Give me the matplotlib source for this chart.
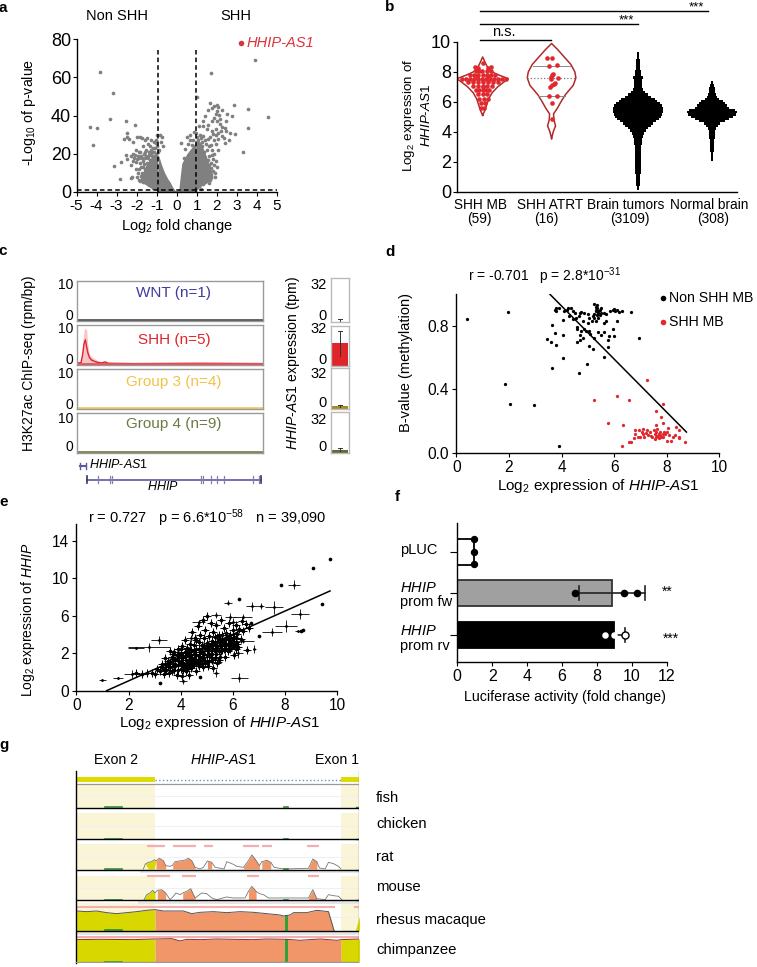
import numpy as np
import matplotlib
matplotlib.use('Agg')
import matplotlib.pyplot as plt

plt.rcParams['font.family'] = ['Liberation Sans', 'DejaVu Sans']
plt.rcParams['mathtext.fontset'] = 'custom'
plt.rcParams['mathtext.rm'] = 'Liberation Sans'
plt.rcParams['mathtext.it'] = 'Liberation Sans:italic'
plt.rcParams['mathtext.default'] = 'regular'
plt.rcParams['axes.linewidth'] = 1.0
plt.rcParams['axes.unicode_minus'] = False

W, H = 757, 967
AS1 = r'$\mathit{HHIP}$-$\mathit{AS1}$'

# --- a: volcano
vol_left = [(-3.85,62.9),(-3.19,52),(-3.35,38.3),(-4.35,34),(-4,33.3),(-4.2,24.4),(-2.55,37),(-2.1,35),(-2.5,30.8),(-2.5,29),
    (-2.65,27.5),(-2.4,27.7),(-2.85,7),(-3.15,13.4),(-2.8,15.5),(-2.55,19.3),(-2.5,17),(-2.3,19),(-2.2,20),(-2.15,18),
    (-2.3,14),(-2.05,12),(-2.25,8),(-2.3,7.5),(-1.95,10),(-2.05,15.5),(-1.9,18),(-1.85,21),(-1.85,29),(-1.75,28),
    (-1.6,27),(-1.7,24),(-1.55,22),(-1.45,25),(-1.35,24),(-1.3,20),(-1.15,26),(-1.05,27),(-1,30),(-0.85,30),
    (-0.75,29),(-1,24),(-0.9,22),(-1.6,18),(-1.7,16),(-1.8,13),(-1.75,10),(-1.65,8),(-1.9,6.5),(-1.55,19),
    (-1.45,18),(-1.35,16.5),(-1.25,19),(-1.15,21),(-1.05,20),(-0.98,18.5),(-1.5,15),(-1.6,12),(-1.75,7),(-1.7,5),
    (-1.5,5),(-1.4,3.5),(-1.3,3),(-1.2,2),(-2.0,17),(-1.95,19),(-2.1,19.5),(-1.65,20),(-1.4,21),(-1.2,23),
    (-1.1,17.5),(-1.8,19),(-1.3,27),(-1.5,28),(-2.0,28.5),(-2.2,26),(-1.85,15),(-1.9,12),(-1.8,8.5),(-1.85,5.5),
    (-1.7,13),(-1.75,18),(-1.65,14.5),(-1.6,6),(-1.55,9),(-1.5,18.5),(-1.6,21),(-1.4,19.5),(-1.3,22),(-1.1,19),
    (-1.25,21),(-1.1,23),(-0.95,21),(-1.05,25.5),(-0.8,26),(-0.7,24),(-1.9,21),(-2.05,22),(-2.2,16),(-2.0,8)]
vol_right = [(3.88,69),(1.7,62.4),(1.02,49.8),(4.55,39.2),(3.55,43.4),(3.55,33.3),(3.29,20.9),(2.92,30.5),(2.85,45.6),(2.5,41),
    (2.25,43),(1.67,46.5),(1.85,45),(2,45.5),(2.08,44.5),(2,42.5),(1.95,41),(1.78,44),(2.1,40.5),(1.85,38.5),
    (1.55,43),(1.4,40),(1.3,37),(1.55,35),(1.75,37),(2,37),(2.15,35.5),(2.25,34),(2.4,33.5),(2.45,32),
    (2.65,31),(2.2,32),(1.95,33),(1.1,34.5),(1.3,34.5),(1.5,33),(1.75,32),(1.95,30),(2.25,29.5),(2.35,28),
    (2.4,25.5),(2.05,27.5),(1.85,27),(1.65,29),(1.3,29.5),(1.15,30),(0.85,31.5),(0.95,31),(0.65,30),(0.5,29),
    (0.2,25.5),(0.4,22.5),(0.65,27),(1.05,27),(1.25,26),(1.45,25),(1.7,24.5),(1.95,25),(2.05,22),(1.85,20),
    (1.5,22),(1.25,24),(1.05,24),(1.35,21),(1.6,19),(1.8,17),(2.0,13),(1.9,10),(1.95,16),(1.6,14),
    (1.35,8),(1.4,5),(1.3,4),(1.45,6),(1.5,9),(1.7,12.5),(1.55,16.5),(1.15,19),(1.1,3),(1.2,1.8),
    (1.6,4.5),(1.3,11),(1.2,13),(1.55,27.5),(2.15,38),(2.05,31),(1.8,30.5),(2.45,37),(2.6,27),(2.75,40),
    (1.75,22),(1.6,24),(1.4,27),(1.2,28),(1.75,19.5),(1.7,15),(1.85,14),(1.8,11),(1.65,10),(1.55,7),
    (1.65,6.5),(1.45,12),(1.4,16),(1.35,19),(0.8,27),(0.75,24.5),(0.55,25),(0.35,18),(1.0,29),(1.9,8)]
vol_core_x = [-1.0,-0.9,-0.75,-0.6,-0.45,-0.32,-0.2,-0.1,0.0,0.1,0.15,0.25,0.5,0.95,1.0]
vol_core_top = [0.5,19,14,10,7,5,2.5,1,0.7,1,6,15,20,26,0.5]
vol_lwing_x = [-1.75,-1.5,-1.2,-0.95]
vol_lwing_top = [9,15,19,20]
vol_lwing_bot = [5,3.5,2,0.5]
vol_rwing_x = [0.95,1.2,1.5,1.8]
vol_rwing_top = [27,26,18,9]
vol_rwing_bot = [0.5,3,5,7]
vol_cutoff_fc = [-0.94, 0.96]
vol_cutoff_p = 1.3
vol_hhip = (3.2, 78)

# --- b: violins and swarms
b_ticks = [0, 2, 4, 6, 8, 10]
mb_y = [5.1,5.5,5.8,6.2,6.6,7.0,7.3,7.55,7.8,8.0,8.3,8.6,9.0]
mb_hw = [0,8,12,18,28,45,62,77,48,28,15,8,0]
mb_pts_x = [78,54,63,102,93,58,66,76,90,104,16,28,40,52,64,76,88,100,112,124,136,148,33,48,63,78,93,108,123,
    40,52,64,78,92,104,116,50,64,78,92,106,58,68,78,88,98,64,78,92,68,83,93,73,86,73,83,61,95,78]
mb_pts_y = [8.6,8.3,8.25,8.3,8.25,8.05,8.05,8.05,8.05,8.05,7.55,7.55,7.55,7.55,7.55,7.55,7.55,7.55,7.55,7.55,7.55,7.55,7.3,7.3,7.3,7.3,7.3,7.3,7.3,
    7.8,7.8,7.8,7.8,7.8,7.8,7.8,7.05,7.05,7.05,7.05,7.05,6.8,6.8,6.8,6.8,6.8,6.5,6.5,6.5,6.2,6.2,6.2,5.9,5.9,5.6,5.6,7.75,7.75,7.0]
atrt_y = [3.55,4.0,4.4,4.8,5.2,5.6,6.0,6.5,7.1,7.6,8.0,8.5,9.0,9.5,9.9]
atrt_hw = [0,5,12,7,6,18,28,42,65,73,70,58,38,18,0]
atrt_pts_x = [271,286,278,300,285,288,284,303,282,292,285,280,294,278,300,285,285]
atrt_pts_y = [8.95,8.9,8.4,8.45,7.8,7.85,7.65,7.6,7.5,7.2,7.1,7.0,7.25,6.4,6.4,5.9,4.85]
atrt_quart = [(6.4,40),(8.4,56)]
atrt_median = (7.62,73)
brain_y = [0.1,0.3,0.5,0.7,1,1.3,1.6,2,2.3,2.6,3,3.2,3.45,3.7,3.9,4.1,4.25,4.4,4.55,4.7,4.85,5.0,5.15,5.3,5.45,5.6,5.75,5.9,6.05,6.2,6.35,6.5,6.65,6.8,7,7.2,7.4,7.6,7.8,8,8.25,8.5,8.75,9,9.2,9.4]
brain_hw = [3,4,5,6,7,9,8,9,10,8,10,11,13,15,18,25,30,38,46,55,63,70,73,75,76,74,72,66,58,50,40,30,22,16,12,11,13,15,10,8,7,6,5,4,3,1]
normal_y = [1.9,2.2,2.5,2.8,3.1,3.4,3.7,4.0,4.2,4.4,4.55,4.7,4.85,5.0,5.15,5.3,5.45,5.6,5.75,5.9,6.05,6.2,6.35,6.5,6.7,6.9,7.1,7.3,7.5]
normal_hw = [1,3,4,5,6,7,8,10,13,18,25,38,50,62,72,76,70,52,44,38,34,22,16,13,10,8,6,4,1]
b_centers = [78, 285, 545, 767]
b_names = ['SHH MB', 'SHH ATRT', 'Brain tumors', 'Normal brain']
b_counts = ['(59)', '(16)', '(3109)', '(308)']
b_name_x = [480.5, 550, 626, 709]
b_count_x = [479, 546, 630, 713]
b_sig = [(70,283,10.13,'n.s.'),(70,545,11.2,'***'),(70,755,12.07,'***')]

# --- c: tracks
c_names = ['WNT (n=1)','SHH (n=5)','Group 3 (n=4)','Group 4 (n=9)']
c_name_y = [293, 340, 381.7, 424]
c_colors = ['#3F3A9E','#E0242C','#F2C14A','#6B7A45']
c_line = ['#555555','#E8505A','#F0CC60','#7A8650']
c_box = [(280.7,320.7),(324.7,365.3),(368.7,409.3),(412.7,453.3)]
c_bar_box = [(278.3,322.3),(325.7,365.7),(368,409),(412,453)]
c_bar_val = [0.4,20.6,2.5,3.0]
c_bar_low = [0.2,8.6,1.5,2.0]
c_bar_high = [2.5,32,4.0,4.5]
c_bar_col = ['#DDDDDD','#E0242C','#A68A24','#5F6B38']
shh_pos = [230,243,248,252,256,260,263,268,275,285,295,305,315,325,400,600,790]
shh_mean = [0.3,0.5,3,6,7.2,5,3.5,2,1.2,0.8,0.5,0.4,0.7,0.3,0.2,0.3,0.2]
shh_up = [0.4,1,6,10,10.7,10,6,3,2.2,1.5,1,0.8,0.8,0.5,0.4,0.5,0.4]
hhip_exons = [295,330,337,603,610,632,652,672,760,778]

# --- d: methylation
d_non = [(0.4,0.84),(1.95,0.885),(1.85,0.43),(2.05,0.31),(2.95,0.3),(3.9,0.045),(3.65,0.535),(4.05,0.595),(4.65,0.5),(4.97,0.56),
    (5.6,0.6),(5.05,0.67),(5.2,0.655),(5.75,0.665),(3.8,0.68),(3.45,0.715),(3.6,0.7),(3.75,0.755),(4.05,0.74),(3.65,0.805),
    (4.05,0.835),(3.75,0.9),(3.8,0.895),(3.8,0.91),(3.9,0.91),(4.1,0.89),(4.2,0.9),(4.25,0.91),(4.35,0.91),(4.3,0.86),
    (4.45,0.89),(4.5,0.88),(4.45,0.84),(4.55,0.85),(4.65,0.86),(4.7,0.88),(4.75,0.885),(4.85,0.88),(4.8,0.83),(4.6,0.79),
    (4.6,0.78),(4.75,0.77),(4.85,0.78),(4.95,0.77),(4.7,0.74),(4.7,0.71),(4.6,0.7),(4.8,0.72),(5.0,0.875),(5.05,0.85),
    (5.0,0.82),(5.15,0.83),(5.3,0.83),(5.25,0.85),(5.25,0.94),(5.3,0.92),(5.35,0.91),(5.3,0.89),(5.35,0.87),(5.45,0.9),
    (5.5,0.88),(5.4,0.85),(5.5,0.91),(5.45,0.87),(5.6,0.88),(5.7,0.875),(5.85,0.89),(5.95,0.9),(6.0,0.905),(6.1,0.9),
    (6.05,0.89),(6.2,0.885),(6.3,0.895),(6.65,0.885),(6.1,0.83),(6.0,0.735),(5.95,0.78),(5.75,0.71),(5.8,0.735),(5.6,0.76),
    (5.6,0.82),(5.7,0.83),(5.4,0.76),(5.5,0.74),(5.25,0.72),(5.1,0.75),(5.05,0.77),(6.95,0.725),(5.3,0.9),(5.4,0.88),
    (5.35,0.93),(5.4,0.895),(5.25,0.875),(5.2,0.86)]
d_shh = [(7.25,0.46),(6.1,0.36),(5.25,0.33),(6.55,0.33),(7.85,0.305),(7.6,0.26),(7.8,0.225),(5.75,0.185),(6.35,0.175),(7.6,0.175),
    (7.85,0.185),(8.05,0.155),(8.35,0.16),(8.45,0.145),(8.7,0.065),(8.45,0.09),(8.25,0.1),(8.15,0.075),(8.0,0.075),(7.85,0.1),
    (7.7,0.09),(7.55,0.085),(7.45,0.1),(7.3,0.11),(7.15,0.1),(7.0,0.1),(6.9,0.1),(6.75,0.095),(6.65,0.07),(6.3,0.04),
    (6.55,0.07),(6.95,0.145),(6.8,0.14),(7.05,0.13),(7.1,0.12),(7.2,0.125),(7.35,0.13),(7.5,0.14),(7.6,0.13),(7.7,0.12),
    (7.75,0.11),(7.85,0.12),(7.95,0.115),(8.1,0.11),(8.3,0.11),(7.65,0.105),(7.55,0.12),(7.7,0.105),(7.8,0.1),(7.75,0.13),
    (7.65,0.15),(7.4,0.105),(7.25,0.14),(7.1,0.15),(6.8,0.115),(8.0,0.13),(7.9,0.13),(7.6,0.1),(8.45,0.1)]
d_fit_x = [3.55, 8.75]
d_fit_y = [1.0, 0.13]

# --- e: HHIP vs HHIP-AS1
e_cross = [(8.33,9.33,.23,.5),(7.51,4.28,.38,.4),(8.02,4.9,.42,.6),(8.57,6.16,.35,.55),(8.48,4.35,.1,.05),(6.25,-0.6,.32,.5),
    (6.82,2.43,.05,.4),(6.72,7,.2,.5),(7.06,7.05,.15,.3),(7.57,6.9,.35,.7),(2.78,2.64,.8,.5),(2.29,2.57,.3,.1),(1.0,-0.9,.12,.1),
    (3.17,3.42,.3,.4),(2.12,-.24,.3,.4),(1.6,-0.65,.2,.1),(5.8,7.4,.15,.3),(6.4,5.9,.35,.25),(5.9,5.9,.2,.4),(5.35,6.1,.2,.3),(4.7,5.3,.25,.3),
    (5.2,1.1,.4,.3),(5.35,-0.1,.1,.4),(6.0,5.3,.2,.5),(4.1,-1.0,.15,.3),(6.4,3.3,.4,.2),(6.2,2.0,.2,.5),(4.4,3.6,.2,.4)]
e_dots = [(9.72,12.1),(9.08,11.05),(9.4,7.3),(6.25,7.75),(7.85,9.3),(8.7,4.45),(8.6,4.4),(7,3.85),(3.2,-1.2),(4.75,-.55),(6.7,5.25)]
e_cloud = [(2.3,-.1),(2.5,-.2),(2.7,-.1),(2.9,-.1),(3.0,-.2),(3.1,.3),(3.2,.1),(3.3,.5),(3.35,-.2),(3.4,.9),(3.45,.2),(3.5,1.2),(3.55,-.1),(3.6,.5),(3.65,1.6),(3.7,.9),
    (3.75,.2),(3.75,2.1),(3.8,1.3),(3.85,-.3),(3.9,.7),(3.9,2.4),(3.95,1.8),(4.0,.3),(4.0,1.1),(4.05,2.8),(4.05,-.4),(4.1,1.6),(4.1,.7),(4.15,2.1),(4.15,3.4),(4.2,.1),
    (4.2,1.3),(4.25,2.6),(4.25,.9),(4.3,1.8),(4.3,-.3),(4.35,3.0),(4.35,1.0),(4.4,2.3),(4.4,.4),(4.45,1.5),(4.45,4.3),(4.5,2.9),(4.5,.8),(4.55,3.6),(4.55,1.9),(4.6,.1),
    (4.6,2.5),(4.65,4.9),(4.65,1.3),(4.7,3.2),(4.7,.6),(4.75,2.1),(4.75,4.0),(4.8,1.5),(4.8,2.9),(4.85,5.5),(4.85,.5),(4.9,3.6),(4.9,1.9),(4.95,2.6),(4.95,4.5),(5.0,1.2),
    (5.0,3.1),(5.0,6.0),(5.05,2.2),(5.05,.6),(5.1,3.8),(5.1,2.8),(5.15,5.2),(5.15,1.6),(5.2,3.3),(5.2,2.4),(5.25,4.3),(5.25,.4),(5.3,2.9),(5.3,3.7),(5.35,1.9),(5.35,5.0),
    (5.4,3.2),(5.4,2.6),(5.45,4.0),(5.45,1.3),(5.5,3.5),(5.5,2.9),(5.55,5.6),(5.55,2.2),(5.6,3.9),(5.6,3.0),(5.65,4.7),(5.65,2.5),(5.7,3.4),(5.7,1.6),(5.75,4.2),(5.75,2.9),
    (5.8,3.6),(5.85,5.2),(5.85,3.1),(5.9,4.0),(5.9,2.4),(5.95,3.3),(6.0,4.5),(6.0,2.9),(6.05,3.7),(6.05,1.8),(6.1,5.0),(6.1,3.2),(6.15,4.1),(6.2,2.7),(6.25,4.6),(6.3,3.5),
    (6.35,5.4),(6.4,4.4),(6.5,5.1),(6.55,2.3),(6.6,4.7),(3.4,1.5),(3.5,.8),(3.6,2.2),(3.7,1.4),(3.8,.6),(3.9,1.5),(4.0,2.0),(4.1,.2),(4.2,2.0),(4.3,.6),(4.4,1.6),(4.5,1.9),
    (4.6,1.1),(4.7,1.7),(4.8,.9),(4.9,1.3),(5.0,2.4),(5.1,1.9),(5.2,1.3),(5.3,2.2),(5.4,1.0),(5.5,1.6),(5.6,2.3),(5.7,3.0),(5.8,2.2),(5.9,2.9),(6.0,3.6),(6.1,2.5),(4.6,3.4),(4.3,2.2),(4.5,1.2),
    (3.3,.9),(3.4,.3),(3.5,.6),(3.6,1.1),(3.65,.1),(3.7,1.9),(3.8,.9),(3.85,1.8),(3.9,.2),(3.95,1.2),(4.0,.7),(4.0,2.4),(4.05,1.5),(4.1,1.0),(4.15,.5),(4.2,1.7),(4.25,.3),(4.3,1.3),
    (4.35,2.5),(4.4,1.1),(4.45,.6),(4.5,2.3),(4.55,1.4),(4.6,1.8),(4.65,.8),(4.7,2.4),(4.75,1.2),(4.8,2.2),(4.85,1.6),(4.9,2.8),(4.95,1.0),(5.0,1.8),(5.05,2.9),(5.1,1.2),(5.15,2.5),(5.2,1.9),
    (5.25,3.0),(5.3,1.5),(5.35,2.6),(5.4,3.7),(5.45,2.2),(5.5,3.2),(5.55,2.8),(5.6,3.4),(5.65,3.0),(5.7,2.5),(5.75,3.5),(5.8,3.0),(5.85,2.6),(5.9,3.4),(5.95,2.8),(6.0,3.2),(6.05,2.9),(6.1,3.6),(6.15,3.0)]
e_fit_x = [1.16, 9.72]
e_fit_y = [-2.0, 8.65]
e_ticks = [-2, 2, 6, 10, 14]
e_ticklabels = ['0', '2', '6', '10', '14']

# --- f: luciferase
f_pos = [2, 1, 0]
f_val = [0.95, 8.85, 9.0]
f_col = ['white', '#A0A0A0', 'black']
f_pts = [[0.95,0.95,0.95],[6.75,9.55,10.3],[8.45,9.0,9.6]]
fw_err = (7.0, 10.75)
rv_err = (9.0, 9.6)

# --- g: conservation (position in track units)
g_bases = [233,328,420,511,603,697]
g_tops = [163,250,343,438,518,620]
g_names = ['fish','chicken','rat','mouse','rhesus macaque','chimpanzee']
g_name_y = [797.7,823.7,856.7,887.3,920,950]
rat_x = [430,436,445,455,463,468,478,490,497,510,518,525,545,555,565,575,585,600,610,622,635,645,672,680,690,700,710,722,730,745,755,765,778,785,800,812,822,850,925,938,950,958,975,985,1000,1015,1022]
rat_h = [0,15,20,22,28,25,32,25,10,8,12,22,25,27,32,25,5,0,5,24,20,5,0,22,18,14,8,6,5,25,42,30,10,22,26,20,5,0,2,30,22,3,0,20,16,8,0]
rat_cons = [(468,497),(518,587),(612,642),(730,780),(785,815),(925,957)]
rat_pink = [(440,495),(518,587),(612,640),(730,778),(785,817),(922,957)]
mouse_x = [432,440,450,458,465,472,485,497,510,520,528,540,548,560,572,585,605,620,635,650,680,700,720,735,745,755,768,778,790,805,925,938,950,975,985,1000,1015,1025]
mouse_h = [0,15,20,28,20,28,30,20,0,10,20,15,20,25,33,5,20,18,5,0,8,5,5,5,25,40,25,18,15,5,5,30,3,0,15,12,10,0]
mouse_cons = [(468,497),(545,585),(740,777),(925,950)]
mouse_pink = [(440,510),(545,587),(741,776),(925,956)]
rhesus_x = [230,260,290,320,350,380,410,440,465,490,520,550,575,600,640,680,720,760,800,840,850,870,880,920,950,985,1002]
rhesus_h = [60,58,60,55,52,55,58,62,64,60,60,60,52,56,58,55,58,56,52,48,45,48,55,55,62,58,0]
chimp_x = [230,300,400,465,515,540,560,600,650,700,760,800,860,900,960,1010,1023,1078]
chimp_h = [68,69,68,70,71,64,69,68,70,69,68,70,69,66,70,66,68,70]

fig = plt.figure(figsize=(W/100, H/100), dpi=100)

def eixo(x0, y0, x1, y1):
    return fig.add_axes([x0/W, 1-y1/H, (x1-x0)/W, (y1-y0)/H])

def texto(x, y, s, size=10.5, ha='center', va='center', **kw):
    fig.text(x/W, 1-y/H, s, fontsize=size, ha=ha, va=va, **kw)

def limpa(ax):
    ax.spines['top'].set_visible(False)
    ax.spines['right'].set_visible(False)

for letra, lx, ly in [('a',3,8),('b',390,7),('c',3,251),('d',390,252),('e',4,502),('f',397,497),('g',4,745)]:
    texto(lx, ly, letra, size=11, fontweight='bold')

# a
ax = eixo(76.5, 39, 277, 192)
limpa(ax)
ax.fill_between(vol_core_x, 0, vol_core_top, color='#808080', lw=0)
ax.fill_between(vol_lwing_x, vol_lwing_bot, vol_lwing_top, color='#808080', lw=0)
ax.fill_between(vol_rwing_x, vol_rwing_bot, vol_rwing_top, color='#808080', lw=0)
pts = np.array(vol_left + vol_right)
ax.scatter(pts[:,0], pts[:,1], s=7, c='#808080', lw=0, clip_on=False)
for fc in vol_cutoff_fc:
    ax.plot([fc, fc], [0, 74], 'k--', lw=1.1, dashes=(3, 2))
ax.plot([-5, 5], [vol_cutoff_p, vol_cutoff_p], 'k--', lw=1.1, dashes=(3, 2))
ax.scatter(*vol_hhip, s=16, c='#D9343A', lw=0, clip_on=False)
ax.text(vol_hhip[0]+0.27, vol_hhip[1], 'HHIP-AS1', color='#D9343A', style='italic', fontsize=10.5, va='center')
ax.set_xlim(-5, 5)
ax.set_ylim(0, 80)
ax.set_xticks(range(-5, 6))
ax.set_yticks(range(0, 81, 20))
ax.tick_params(axis='x', labelsize=11, length=3, pad=2)
ax.tick_params(axis='y', labelsize=13, length=3, pad=1)
texto(116.5, 16, 'Non SHH')
texto(236, 16, 'SHH')
texto(177, 226, 'Log$_2$ fold change')
texto(29, 112, '-Log$_{10}$ of p-value', rotation=90, size=10.2)

# b
ax = eixo(456.7, 42, 737, 191.7)
limpa(ax)
ax.fill_betweenx(brain_y, b_centers[2]-np.array(brain_hw), b_centers[2]+np.array(brain_hw), color='k', lw=0, step='mid')
ax.fill_betweenx(normal_y, b_centers[3]-np.array(normal_hw), b_centers[3]+np.array(normal_hw), color='k', lw=0, step='mid')
for cen, yy, hw in [(b_centers[0], mb_y, mb_hw), (b_centers[1], atrt_y, atrt_hw)]:
    hw = np.array(hw)
    ax.plot(np.r_[cen-hw, (cen+hw)[::-1]], np.r_[yy, yy[::-1]], color='#B02A2A', lw=1.1)
ax.plot([b_centers[0]-77, b_centers[0]+77], [7.55, 7.55], color='#999999', lw=0.8, ls=':')
for yq, hq in atrt_quart:
    ax.plot([b_centers[1]-hq, b_centers[1]+hq], [yq, yq], color='#888888', lw=0.7)
ax.plot([b_centers[1]-atrt_median[1], b_centers[1]+atrt_median[1]], [atrt_median[0]]*2, color='#777777', lw=0.9, ls=':')
ax.scatter(mb_pts_x, mb_pts_y, s=11, c='#E0282E', lw=0, zorder=3)
ax.scatter(atrt_pts_x, atrt_pts_y, s=11, c='#E0282E', lw=0, zorder=3)
for x0, x1, ys, lab in b_sig:
    ax.plot([x0, x1], [ys, ys], 'k', lw=1, clip_on=False)
    if lab == 'n.s.':
        ax.text((x0+x1)/2-35, ys+0.05, lab, ha='center', va='bottom', fontsize=10.5)
    else:
        ax.text(x1-35, ys-0.15, lab, ha='center', va='bottom', fontsize=9.5)
ax.set_xlim(0, 842)
ax.set_ylim(0, 10)
ax.set_xticks([])
ax.set_yticks(b_ticks)
ax.tick_params(axis='y', labelsize=13, length=3, pad=1)
for nome, nx, cont, cx in zip(b_names, b_name_x, b_counts, b_count_x):
    texto(nx, 205, nome, size=9.8)
    texto(cx, 219.5, cont, size=9.8)
texto(409, 115, 'Log$_2$ expression of', rotation=90, size=9.6)
texto(427, 115, AS1, rotation=90, size=9.6)

# c
for i, (top, bot) in enumerate(c_box):
    ax = eixo(76.7, top, 263.3, bot)
    for s in ax.spines.values():
        s.set_color('#9A9A9A')
    ax.set_xlim(230, 790)
    ax.set_ylim(-0.3, 11.6)
    ax.set_xticks([])
    ax.set_yticks([])
    if i == 1:
        ax.fill_between(shh_pos, 0, shh_up, color='#F7C5C8', lw=0)
        ax.plot(shh_pos, shh_mean, color='#E0242C', lw=1.0)
    ax.axhline(0, color=c_line[i], lw=2.0)
    texto(174, c_name_y[i], c_names[i], size=11, color=c_colors[i])
    bt, bb = c_bar_box[i]
    bx = eixo(330.7, bt, 349.3, bb)
    for s in bx.spines.values():
        s.set_color('#BBBBBB')
    bx.bar([0], [c_bar_val[i]], width=0.85, color=c_bar_col[i])
    bx.plot([0, 0], [c_bar_low[i], c_bar_high[i]], color='#333333', lw=0.7)
    bx.plot([-0.1, 0.1], [c_bar_high[i]]*2, color='#333333', lw=0.7)
    bx.set_xlim(-0.5, 0.5)
    bx.set_ylim(0, 37)
    bx.set_xticks([])
    bx.set_yticks([])
for yy, s in [(285,'10'),(316,'0'),(329,'10'),(360,'0'),(374,'10'),(405,'0'),(419,'10'),(447,'0')]:
    texto(73.5, yy, s, ha='right', size=10)
for yy, s in [(285,'32'),(316,'0'),(329,'32'),(360,'0'),(374,'32'),(403,'0'),(420,'32'),(447,'0')]:
    texto(326.5, yy, s, ha='right', size=10.5)
texto(29, 363, 'H3K27ac ChIP-seq (rpm/bp)', rotation=90, size=10)
texto(293, 363, AS1 + ' expression (tpm)', rotation=90, size=10.1)
ax = eixo(76.7, 460, 263.3, 488)
ax.axis('off')
ax.set_xlim(230, 790)
ax.set_ylim(2, 0)
gene = '#5A5A9E'
ax.plot([241, 258], [0.45, 0.45], color=gene, lw=1.5)
ax.plot([241, 241], [0.25, 0.65], color=gene, lw=1)
ax.plot([258, 258], [0.25, 0.65], color=gene, lw=1)
ax.plot([261, 783], [1.4, 1.4], color=gene, lw=1.2)
ax.plot([261, 261], [1.15, 1.65], color='#333366', lw=1.2)
ax.plot([783, 783], [1.15, 1.65], color='#333366', lw=1.2)
for ex in hhip_exons:
    ax.plot([ex, ex], [1.15, 1.65], color='#8080B0', lw=0.9)
texto(89, 465, AS1, ha='left', size=9)
texto(163, 486, r'$\mathit{HHIP}$', size=9)

# d
ax = eixo(456.3, 294, 719.3, 452.7)
limpa(ax)
dn = np.array(d_non)
ds = np.array(d_shh)
ax.plot(d_fit_x, d_fit_y, 'k', lw=1.1)
ax.scatter(dn[:,0], dn[:,1], s=5.5, c='k', lw=0, clip_on=False)
ax.scatter(ds[:,0], ds[:,1], s=5.5, c='#E0282E', lw=0, clip_on=False)
ax.set_xlim(0, 10)
ax.set_ylim(0, 1.0)
ax.set_xticks(range(0, 11, 2))
ax.set_yticks([0, 0.4, 0.8])
ax.set_yticklabels(['0.0', '0.4', '0.8'])
ax.tick_params(labelsize=11.2, length=3, pad=2)
ax.scatter([7.85], [0.975], s=16, c='k', lw=0, clip_on=False)
ax.scatter([7.85], [0.824], s=16, c='#E0282E', lw=0, clip_on=False)
ax.text(8.1, 0.975, 'Non SHH MB', fontsize=10.2, va='center')
ax.text(8.1, 0.824, 'SHH MB', fontsize=10.2, va='center')
texto(545, 276, 'r = -0.701   p = 2.8*10$^{-31}$', size=10)
texto(598, 486, 'Log$_2$ expression of ' + AS1, size=11)
texto(406, 362, 'B-value (methylation)', rotation=90, size=10.5)

# e
ax = eixo(76.3, 524.3, 337.3, 690.7)
limpa(ax)
ec = np.array(e_cloud)
ax.scatter(ec[:,0], ec[:,1], s=34, marker='+', c='k', lw=0.7)
ax.scatter(ec[:,0], ec[:,1], s=7, c='k', lw=0)
ex = np.array(e_cross)
ax.errorbar(ex[:,0], ex[:,1], xerr=ex[:,2], yerr=ex[:,3], fmt='none', ecolor='k', elinewidth=0.6)
ax.scatter(ex[:,0], ex[:,1], s=4, c='k', lw=0)
ed = np.array(e_dots)
ax.scatter(ed[:,0], ed[:,1], s=7, c='k', lw=0)
ax.plot(e_fit_x, e_fit_y, 'k', lw=1.1)
ax.set_xlim(0, 10)
ax.set_ylim(-2, 15.77)
ax.set_xticks(range(0, 11, 2))
ax.set_yticks(e_ticks)
ax.set_yticklabels(e_ticklabels)
ax.tick_params(labelsize=11.2, length=3, pad=2)
texto(207, 518, 'r = 0.727   p = 6.6*10$^{-58}$   n = 39,090', size=10.5)
texto(220, 723, 'Log$_2$ expression of ' + AS1, size=10.9)
texto(28, 620, 'Log$_2$ expression of ' + r'$\mathit{HHIP}$', rotation=90, size=10)

# f
ax = eixo(457.3, 523.3, 666.7, 662.3)
limpa(ax)
ax.barh(f_pos, f_val, height=0.62, color=f_col, edgecolor=['k', '#333333', 'k'], lw=1.3)
ax.scatter(f_pts[0], [2.3, 2, 1.7], s=28, c='k', lw=0, zorder=3, clip_on=False)
ax.scatter(f_pts[1], [1, 1, 1], s=30, c='k', lw=0, zorder=3)
ax.plot(fw_err, [1, 1], color='#222222', lw=1.2)
for e in fw_err:
    ax.plot([e, e], [0.83, 1.17], color='#222222', lw=1.2)
ax.plot(rv_err, [0, 0], color='#222222', lw=1.2)
ax.plot([rv_err[1]]*2, [-0.16, 0.16], color='#222222', lw=1.2)
ax.scatter(f_pts[2][:2], [0, 0], s=22, c='white', lw=0, zorder=3)
ax.scatter(f_pts[2][2:], [0], s=26, c='white', edgecolors='k', lw=1, zorder=3)
ax.set_xlim(0, 12)
ax.set_ylim(-0.655, 2.68)
ax.set_xticks(range(0, 13, 2))
ax.set_yticks(f_pos)
ax.set_yticklabels([])
ax.tick_params(axis='x', labelsize=11.5, length=3, pad=2)
ax.tick_params(axis='y', length=5)
texto(400, 550, 'pLUC', ha='left')
texto(400, 587.5, r'$\mathit{HHIP}$', ha='left')
texto(400, 602, 'prom fw', ha='left')
texto(400, 631, r'$\mathit{HHIP}$', ha='left')
texto(400, 646, 'prom rv', ha='left')
texto(667.7, 592, '**', size=10)
texto(670.5, 639, '***', size=10)
texto(565.5, 697, 'Luciferase activity (fold change)', size=10.3)

# g
ax = eixo(76.3, 771, 359.5, 963.3)
ax.set_xlim(229, 1078)
ax.set_ylim(700, 123)
ax.axis('off')
exon2 = (230, 465)
exon1 = (1023, 1078)
ax.fill_between(exon2, 142, 156, color='#DCDC00', lw=0)
ax.fill_between(exon1, 142, 156, color='#DCDC00', lw=0)
ax.plot([465, 1023], [149, 149], color='#6A8FD0', lw=1, ls=':')
ax.plot([229, 1078], [163, 163], color='#999999', lw=0.9)
for top, base in zip(g_tops, g_bases):
    for ex_s, ex_e in (exon2, exon1):
        ax.fill_between([ex_s, ex_e], top, base, color='#FBF5D8', lw=0)
    yl = top+(base-top)*0.5
    ax.plot([230, 1078], [yl, yl], color='#EFEFEF', lw=0.8, zorder=1)
for grey_x0, grey_y0, grey_y1 in [(420,420,430),(415,511,522),(230,605,615)]:
    ax.fill_between([grey_x0, 1078], grey_y0, grey_y1, color='#E6E6E6', lw=0)
for xs, hs, cons, pink, base, py in [(rat_x, rat_h, rat_cons, rat_pink, 417, 347), (mouse_x, mouse_h, mouse_cons, mouse_pink, 509, 439)]:
    xs = np.array(xs)
    hs = np.array(hs)
    ax.fill_between(xs, base-hs, base, where=(xs >= 440) & (xs <= 465), color='#D8D800', lw=0, interpolate=True)
    for c0, c1 in cons:
        ax.fill_between(xs, base-hs, base, where=(xs >= c0) & (xs <= c1), color='#F09668', lw=0)
    ax.plot(xs, base-hs, color='#777777', lw=0.6)
    for p0, p1 in pink:
        ax.plot([p0, p1], [py, py], color='#F5AEB0', lw=1.6, solid_capstyle='butt')
rx = np.array(rhesus_x)
rh = np.array(rhesus_h)
ax.fill_between(rx, 603-rh, 603, where=rx <= 465, color='#D8D800', lw=0)
ax.fill_between(rx, 603-rh, 603, where=rx >= 465, color='#F09668', lw=0)
ax.plot(rx, 603-rh, color='#555555', lw=0.7)
ax.fill_between([1065, 1078], [603, 558], 603, color='#D8D800', lw=0)
ax.plot([232, 1002], [531, 531], color='#F5AEB0', lw=1.5)
ax.plot([1065, 1078], [531, 531], color='#F5AEB0', lw=1.5)
cx = np.array(chimp_x)
ch = np.array(chimp_h)
ax.fill_between(cx, 697-ch, 697, where=cx <= 465, color='#D8D800', lw=0)
ax.fill_between(cx, 697-ch, 697, where=(cx >= 465) & (cx <= 1023), color='#F09668', lw=0)
ax.fill_between(cx, 697-ch, 697, where=cx >= 1023, color='#D8D800', lw=0)
ax.plot(cx, 697-ch, color='#883333', lw=0.7)
ax.plot([230, 1078], [620, 620], color='#F5AEB0', lw=1.5)
ax.fill_between([855, 864], 555, 603, color='#2FA33A', lw=0)
ax.fill_between([855, 864], 628, 697, color='#2FA33A', lw=0)
for base in g_bases:
    ax.plot([315, 365], [base-2, base-2], color='#2F8F3A', lw=1.2, zorder=3)
for base in g_bases[:4]:
    ax.plot([852, 863], [base-2, base-2], color='#2F8F3A', lw=1.2, zorder=3)
    ax.plot([1068, 1078], [base-1, base-1], color='#2F8F3A', lw=1, zorder=3)
for base in g_bases:
    ax.plot([229, 1078], [base, base], color='k' if base != 697 else '#999999', lw=1.0, zorder=4)
ax.plot([229.5, 229.5], [123, 700], color='k', lw=1.0, clip_on=False)
ax.plot([1077, 1077], [123, 700], color='#888888', lw=1.0)
texto(116, 760, 'Exon 2', size=10.2)
texto(223, 760, AS1, size=10.2)
texto(337, 760, 'Exon 1', size=10.2)
for nome, yy in zip(g_names, g_name_y):
    texto(376, yy, nome, ha='left', size=10.7)

fig.savefig('out.png', dpi=100)
